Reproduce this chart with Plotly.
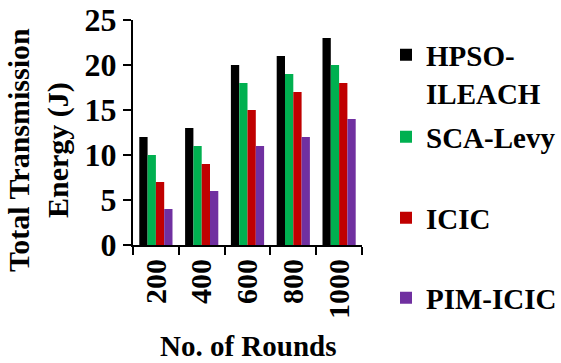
import plotly.graph_objects as go

categories = ["200", "400", "600", "800", "1000"]
series_names = ["HPSO-<br>ILEACH", "SCA-Levy", "ICIC", "PIM-ICIC"]
hpso_ileach = [12, 13, 20, 21, 23]
sca_levy = [10, 11, 18, 19, 20]
icic = [7, 9, 15, 17, 18]
pim_icic = [4, 6, 11, 12, 14]
colors = ["#000000", "#00B050", "#C00000", "#7030A0"]
y_ticks = [0, 5, 10, 15, 20, 25]

FONT = dict(family="Liberation Serif, Times New Roman, serif", size=30, color="#000000", weight="bold")
LEG_FONT = dict(FONT, size=29)
YTICK_FONT = dict(FONT, size=32)
XTITLE_FONT = dict(FONT, size=29)

W, H = 561, 363
L, R, T, B = 133, 199, 20, 118
pw, ph = W - L - R, H - T - B

fig = go.Figure()
legend_keys = ["legend", "legend2", "legend3", "legend4"]
for name, vals, col, lk in zip(series_names, [hpso_ileach, sca_levy, icic, pim_icic], colors, legend_keys):
    fig.add_trace(go.Bar(x=categories, y=vals, name=name, marker=dict(color=col, line=dict(width=0)),
                         legend=lk))

# legend anchor positions (pixel y) chosen to match the reference
legend_px = [74, 137, 218, 298]
layout_legends = {}
for lk, py in zip(legend_keys, legend_px):
    ypaper = (H - B - py) / ph
    layout_legends[lk] = dict(x=(386 - L) / pw, y=ypaper, xanchor="left", yanchor="middle",
                              font=LEG_FONT, bgcolor="rgba(0,0,0,0)", valign="top",
                              itemwidth=30, borderwidth=0)

fig.update_layout(
    width=W, height=H,
    margin=dict(l=L, r=R, t=T, b=B, autoexpand=False),
    paper_bgcolor="white", plot_bgcolor="white",
    barmode="group", bargap=0.275, bargroupgap=0,
    font=FONT,
    showlegend=True,
    xaxis=dict(type="category", showline=True, linecolor="#000000", linewidth=2,
               ticks="outside", tickson="boundaries", ticklen=8, tickwidth=2, tickcolor="#000000",
               tickangle=-90, tickfont=FONT, showgrid=False, zeroline=False, automargin=False),
    yaxis=dict(range=[0, 25], tickvals=y_ticks, showline=True, linecolor="#000000", linewidth=2,
               ticks="outside", ticklen=8, tickwidth=2, tickcolor="#000000",
               tickfont=YTICK_FONT, showgrid=False, zeroline=False, automargin=False),
    annotations=[
        dict(text="Total Transmission<br>Energy (J)", textangle=-90, xref="paper", yref="paper",
             x=(38 - L) / pw, y=(H - B - 150) / ph, xanchor="center", yanchor="middle",
             showarrow=False, font=FONT),
        dict(text="No. of Rounds", xref="paper", yref="paper",
             x=0.5, y=(H - B - 346) / ph, xanchor="center", yanchor="middle",
             showarrow=False, font=XTITLE_FONT),
    ],
    **layout_legends,
)

fig.write_html("out.html", config={"displayModeBar": False},
               post_script="document.body.style.margin='0';document.body.style.overflow='hidden';")
